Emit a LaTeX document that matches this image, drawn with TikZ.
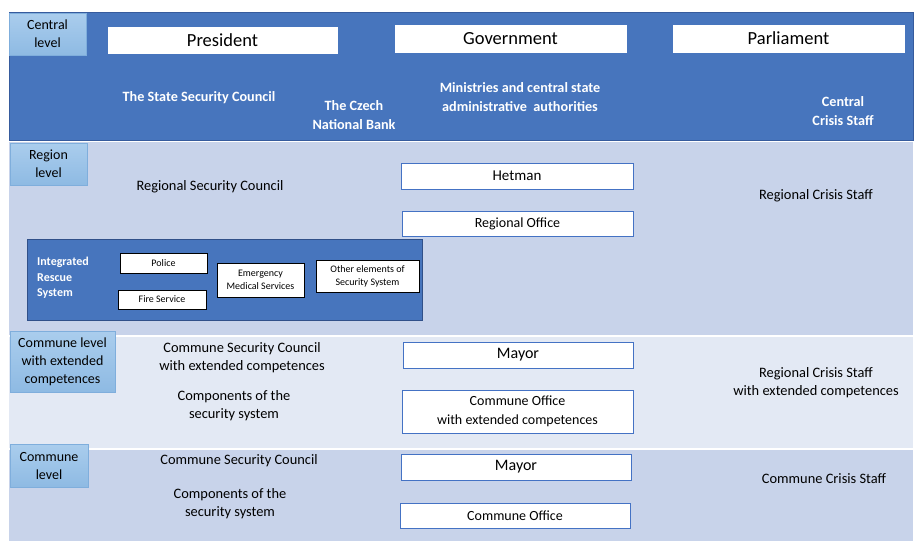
\documentclass[tikz,border=0pt]{standalone}
\usepackage{fontspec}
\setmainfont{Carlito}
\definecolor{bandDark}{HTML}{4775BD}
\definecolor{bandMid}{HTML}{C8D3EA}
\definecolor{bandLight}{HTML}{E3E9F4}
\definecolor{boxBlue}{HTML}{4472C4}
\definecolor{lblTop}{HTML}{AACDED}
\definecolor{lblBot}{HTML}{8EBAE3}
\definecolor{lblEdge}{HTML}{7FAEDC}
\tikzset{
  lvl/.style={draw=lblEdge, line width=0.6pt, top color=lblTop, bottom color=lblBot, align=center, inner sep=0pt, font=\fontsize{14}{18}\selectfont, text=black},
  topbox/.style={fill=white, draw=white, inner sep=0pt, font=\fontsize{18.5}{20}\selectfont},
  orgbox/.style={fill=white, draw=boxBlue, line width=0.8pt, inner sep=0pt, align=center, font=\fontsize{15}{18}\selectfont},
  smallbox/.style={fill=white, draw=black, line width=0.8pt, inner sep=0pt, align=center, font=\fontsize{10}{13}\selectfont},
  wtxt/.style={text=white, align=center, font=\bfseries\fontsize{14.2}{19}\selectfont, inner sep=0pt},
  btxt/.style={text=black, align=center, font=\fontsize{14.4}{18.5}\selectfont, inner sep=0pt},
}
\begin{document}
\begin{tikzpicture}[x=1pt,y=-1pt]
\useasboundingbox (0,0) rectangle (915,541);
\fill[white] (0,0) rectangle (915,541);
% bands
\fill[bandDark] (9,12) rectangle (913,140);
\draw[boxBlue!80!black, line width=0.8pt] (9,12) rectangle (913,140);
\fill[bandMid] (9,142) rectangle (913,335);
\fill[bandLight] (9,337) rectangle (913,448);
\fill[bandMid] (9,450) rectangle (913,541);
% level labels
\node[lvl, minimum width=77pt, minimum height=42pt] (lc) at (47.5,34) {Central\\level};
\node[lvl, minimum width=77pt, minimum height=42pt] (lr) at (48.5,164) {Region\\level};
\node[lvl, minimum width=105pt, minimum height=61pt] (lce) at (62.5,361.5) {Commune level\\with extended\\competences};
\node[lvl, minimum width=78pt, minimum height=43pt] (lcm) at (49,465.5) {Commune\\level};
% central boxes
\node[topbox, minimum width=229pt, minimum height=26pt] (pres) at (222.5,40) {President};
\node[topbox, minimum width=231pt, minimum height=27pt] (gov) at (510.5,38.5) {Government};
\node[topbox, minimum width=231pt, minimum height=27pt] (parl) at (788.5,38.5) {Parliament};
% central texts
\node[wtxt] (ssc) at (199,98) {The State Security Council};
\node[wtxt] (cnb) at (354,115) {The Czech\\National Bank};
\node[wtxt] (min) at (520,97) {Ministries and central state\\administrative\ \ authorities};
\node[wtxt] (ccs) at (843,111) {Central\\Crisis Staff};
% region
\node[btxt] (rsc) at (210,186.5) {Regional Security Council};
\node[orgbox, minimum width=232pt, minimum height=26pt] (het) at (517,176) {Hetman};
\node[orgbox, minimum width=231pt, minimum height=25pt, font=\fontsize{14}{17}\selectfont] (rof) at (517.5,223.5) {Regional Office};
\node[btxt] (rcs) at (816,195.5) {Regional Crisis Staff};
% IRS
\node[fill=bandDark, draw=boxBlue!70!black, line width=0.8pt, minimum width=395pt, minimum height=81pt, inner sep=0pt] (irs) at (224.5,279.5) {};
\node[text=white, align=left, anchor=west, font=\bfseries\fontsize{12}{15.5}\selectfont, inner sep=0pt] (irst) at (37,278) {Integrated\\Rescue\\System};
\node[smallbox, minimum width=87pt, minimum height=20pt] (pol) at (163.5,263) {Police};
\node[smallbox, minimum width=88pt, minimum height=19pt] (fire) at (162,299.5) {Fire Service};
\node[smallbox, minimum width=87pt, minimum height=34pt] (ems) at (260.5,280) {Emergency\\Medical Services};
\node[smallbox, minimum width=103pt, minimum height=32pt] (oth) at (367.5,276) {Other elements of\\Security System};
% commune extended
\node[btxt] (csce) at (242,357.5) {Commune Security Council\\with extended competences};
\node[btxt] (comp1) at (234,405.5) {Components of the\\security system};
\node[orgbox, minimum width=230pt, minimum height=26pt, font=\fontsize{16}{18}\selectfont] (may1) at (518,355) {Mayor};
\node[orgbox, minimum width=231pt, minimum height=43pt, font=\fontsize{14}{18.5}\selectfont] (coe) at (517.5,411.5) {Commune Office\\with extended competences};
\node[btxt] (rcse) at (816,382.5) {Regional Crisis Staff\\with extended competences};
% commune
\node[btxt] (csc) at (239,460.5) {Commune Security Council};
\node[btxt] (comp2) at (230,503.5) {Components of the\\security system};
\node[orgbox, minimum width=230pt, minimum height=26pt, font=\fontsize{16}{18}\selectfont] (may2) at (516,467) {Mayor};
\node[orgbox, minimum width=230pt, minimum height=25pt, font=\fontsize{14}{17}\selectfont] (cof) at (515,515.5) {Commune Office};
\node[btxt] (ccs2) at (824,478.5) {Commune Crisis Staff};
\end{tikzpicture}
\end{document}
